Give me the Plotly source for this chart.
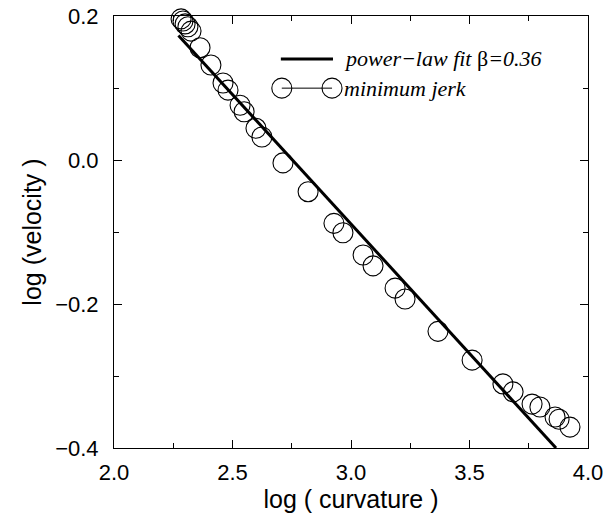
import plotly.graph_objects as go

# minimum jerk data (log curvature, log velocity)
jerk_x = [2.283, 2.291, 2.300, 2.312, 2.325, 2.363, 2.409, 2.460, 2.481, 2.532,
          2.549, 2.599, 2.624, 2.713, 2.819, 2.928, 2.966, 3.051, 3.093, 3.186,
          3.228, 3.367, 3.511, 3.641, 3.684, 3.764, 3.797, 3.861, 3.878, 3.924]
jerk_y = [0.196, 0.193, 0.189, 0.185, 0.179, 0.156, 0.132, 0.107, 0.097, 0.076,
          0.067, 0.044, 0.032, -0.004, -0.044, -0.088, -0.101, -0.132, -0.147, -0.178,
          -0.193, -0.238, -0.278, -0.311, -0.322, -0.339, -0.343, -0.357, -0.360, -0.371]

# power-law fit (beta = 0.36)
fit_x = [2.272, 3.865]
fit_y = [0.173, -0.400]

x_ticks = [2.0, 2.5, 3.0, 3.5, 4.0]
y_ticks = [-0.4, -0.2, 0.0, 0.2]

fig = go.Figure()
fig.add_trace(go.Scatter(x=fit_x, y=fit_y, mode="lines",
                         line=dict(color="black", width=3), showlegend=False))
fig.add_trace(go.Scatter(x=jerk_x, y=jerk_y, mode="markers",
                         marker=dict(symbol="circle-open", size=20,
                                     color="black", line=dict(width=1.1)),
                         showlegend=False, cliponaxis=False))

tick_font = dict(family="Liberation Sans, Arial", size=22, color="black")
title_font = dict(family="Liberation Sans, Arial", size=25, color="black")
axis_common = dict(showline=True, linecolor="black", linewidth=1, mirror="allticks",
                   ticks="inside", ticklen=8, tickwidth=1, tickcolor="black",
                   showgrid=False, zeroline=False, tickfont=tick_font,
                   ticklabeloverflow="allow")

fig.update_xaxes(range=[2.0, 4.0], tickvals=x_ticks, ticktext=[f"{v:.1f}" for v in x_ticks],
                 minor=dict(dtick=0.25, tick0=2.0, ticks="inside", ticklen=5, tickcolor="black", showgrid=False),
                 ticklabelstandoff=5,
                 title=dict(text="log ( curvature )", standoff=0, font=title_font),
                 **axis_common)
fig.update_yaxes(range=[-0.4, 0.2], tickvals=y_ticks,
                 ticktext=["\u22120.4", "\u22120.2", "0.0", "0.2"],
                 minor=dict(dtick=0.1, tick0=0.0, ticks="inside", ticklen=5, tickcolor="black", showgrid=False),
                 ticklabelstandoff=10,
                 title=dict(text="log (velocity )", standoff=6, font=title_font),
                 **axis_common)

# custom legend (drawn in paper space)
shapes = [
    dict(type="line", xref="paper", yref="paper", x0=0.352, x1=0.462, y0=0.9005, y1=0.9005,
         line=dict(color="black", width=3)),
    dict(type="line", xref="paper", yref="paper", x0=0.354, x1=0.460, y0=0.833, y1=0.833,
         line=dict(color="black", width=1)),
]
for cx in (0.354, 0.460):
    shapes.append(dict(type="circle", xref="paper", yref="paper", xsizemode="pixel", ysizemode="pixel",
                       xanchor=cx, yanchor=0.833, x0=-10, x1=10, y0=-10, y1=10,
                       line=dict(color="black", width=1.1)))

legend_font = dict(family="Liberation Serif, Times New Roman", size=22, color="black")
annotations = [
    dict(xref="paper", yref="paper", x=0.480, y=0.9005, xanchor="left", yanchor="middle",
         showarrow=False, text="<i>power\u2212law fit </i>\u03b2<i>=0.36</i>", font=legend_font),
    dict(xref="paper", yref="paper", x=0.480, y=0.833, xanchor="left", yanchor="middle",
         showarrow=False, text="<i>minimum jerk</i>", font=legend_font),
]

fig.update_layout(width=616, height=519, margin=dict(l=114, r=28, t=16, b=71, autoexpand=False),
                  plot_bgcolor="white", paper_bgcolor="white",
                  shapes=shapes, annotations=annotations, showlegend=False)

# remove the default page margin so the figure fills the window exactly
fig.write_html("out.html", config={"displayModeBar": False},
               post_script="document.body.style.margin='0px';")
